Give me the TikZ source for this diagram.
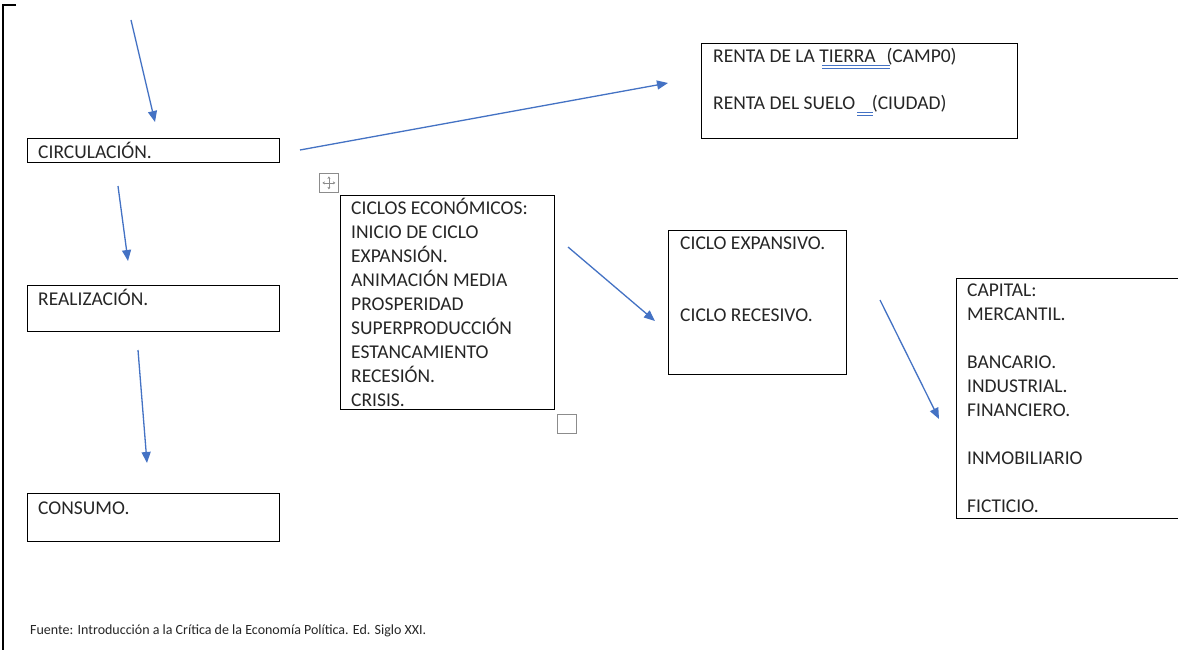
\documentclass[tikz,border=0pt]{standalone}
\usepackage{fontspec}
\setmainfont{Carlito}
\usetikzlibrary{arrows.meta}
\definecolor{flowblue}{HTML}{4472C4}
\definecolor{handlegray}{HTML}{8C8C8C}
\definecolor{inktext}{HTML}{262626}
\begin{document}
\begin{tikzpicture}[x=1pt,y=-1pt,
  box/.style={draw=black, line width=1.2pt, rectangle, inner sep=0pt, anchor=north west},
  txt/.style={anchor=base west, inner sep=0pt, font=\fontsize{19.5}{24}\selectfont, text=inktext},
  flow/.style={draw=flowblue, line width=1.3pt, -{Triangle[length=11pt,width=9pt]}},
  handle/.style={draw=handlegray, line width=0.8pt, fill=white, rectangle, inner sep=0pt, minimum size=19pt, anchor=north west}]
\useasboundingbox (0,0) rectangle (1178,650);
\fill[white] (0,0) rectangle (1178,650);

% page margin bracket
\draw[line width=2pt] (16,5) -- (3,5) -- (3,652);

% left column
\node[box, minimum width=252pt, minimum height=24pt] (circ) at (27,138) {};
\node[txt] (circt) at (38,158) {CIRCULACIÓN.};
\node[box, minimum width=252pt, minimum height=46pt] (real) at (27,285) {};
\node[txt] (realt) at (38,305) {REALIZACIÓN.};
\node[box, minimum width=252pt, minimum height=48pt] (cons) at (27,493) {};
\node[txt] (const) at (38,514) {CONSUMO.};

% rent box
\node[box, minimum width=316pt, minimum height=95pt] (renta) at (701,43) {};
\node[txt] (renta1) at (713,63) {RENTA DE LA TIERRA\hspace{0.55em}(CAMP0)};
\node[txt] (renta2) at (713,110) {RENTA DEL SUELO\hspace{0.85em}(CIUDAD)};
\draw[flowblue, line width=0.9pt] (822,65) -- (890,65) (822,68) -- (890,68);
\draw[flowblue, line width=0.9pt] (857,112) -- (873,112) (857,115) -- (873,115);

% economic cycles
\node[handle] (move) at (319,173) {};
\draw[handlegray, line width=0.7pt, -{Stealth[length=2.5pt,width=3pt]}] (move.center) -- ++(0,-6.5);
\draw[handlegray, line width=0.7pt, -{Stealth[length=2.5pt,width=3pt]}] (move.center) -- ++(0,6.5);
\draw[handlegray, line width=0.7pt, -{Stealth[length=2.5pt,width=3pt]}] (move.center) -- ++(-6.5,0);
\draw[handlegray, line width=0.7pt, -{Stealth[length=2.5pt,width=3pt]}] (move.center) -- ++(6.5,0);
\node[box, minimum width=214pt, minimum height=214pt] (ciclos) at (340,195) {};
\node[txt, align=left, anchor=north west] (ciclost) at (351,198) {CICLOS ECONÓMICOS:\\INICIO DE CICLO\\EXPANSIÓN.\\ANIMACIÓN MEDIA\\PROSPERIDAD\\SUPERPRODUCCIÓN\\ESTANCAMIENTO\\RECESIÓN.\\CRISIS.};
\node[handle] (resize) at (557,414) {};

% expansive / recessive cycle
\node[box, minimum width=178pt, minimum height=144pt] (fase) at (668,230) {};
\node[txt] (fase1) at (680,249) {CICLO EXPANSIVO.};
\node[txt] (fase2) at (680,321) {CICLO RECESIVO.};

% forms of capital
\node[box, minimum width=230pt, minimum height=240pt] (capital) at (956,278) {};
\node[txt, align=left, anchor=north west] (capt) at (967,284) {CAPITAL:\\MERCANTIL.\\[24pt]BANCARIO.\\INDUSTRIAL.\\FINANCIERO.\\[24pt]INMOBILIARIO\\[24pt]FICTICIO.};

% source line
\node[anchor=base west, inner sep=0pt, font=\fontsize{14}{16}\selectfont, text=inktext] (fuente) at (30,634) {Fuente: Introducción a la Crítica de la Economía Política. Ed. Siglo XXI.};

% arrows
\coordinate (a1s) at (131,20);  \coordinate (a1e) at (155,122);
\coordinate (a2s) at (300,150); \coordinate (a2e) at (668,83);
\coordinate (a3s) at (118,186); \coordinate (a3e) at (128,261);
\coordinate (a4s) at (138,350); \coordinate (a4e) at (147,463);
\coordinate (a5s) at (568,247); \coordinate (a5e) at (655,321);
\coordinate (a6s) at (880,300); \coordinate (a6e) at (939,419);
\draw[flow] (a1s) -- (a1e);
\draw[flow] (a2s) -- (a2e);
\draw[flow] (a3s) -- (a3e);
\draw[flow] (a4s) -- (a4e);
\draw[flow] (a5s) -- (a5e);
\draw[flow] (a6s) -- (a6e);
\end{tikzpicture}
\end{document}
